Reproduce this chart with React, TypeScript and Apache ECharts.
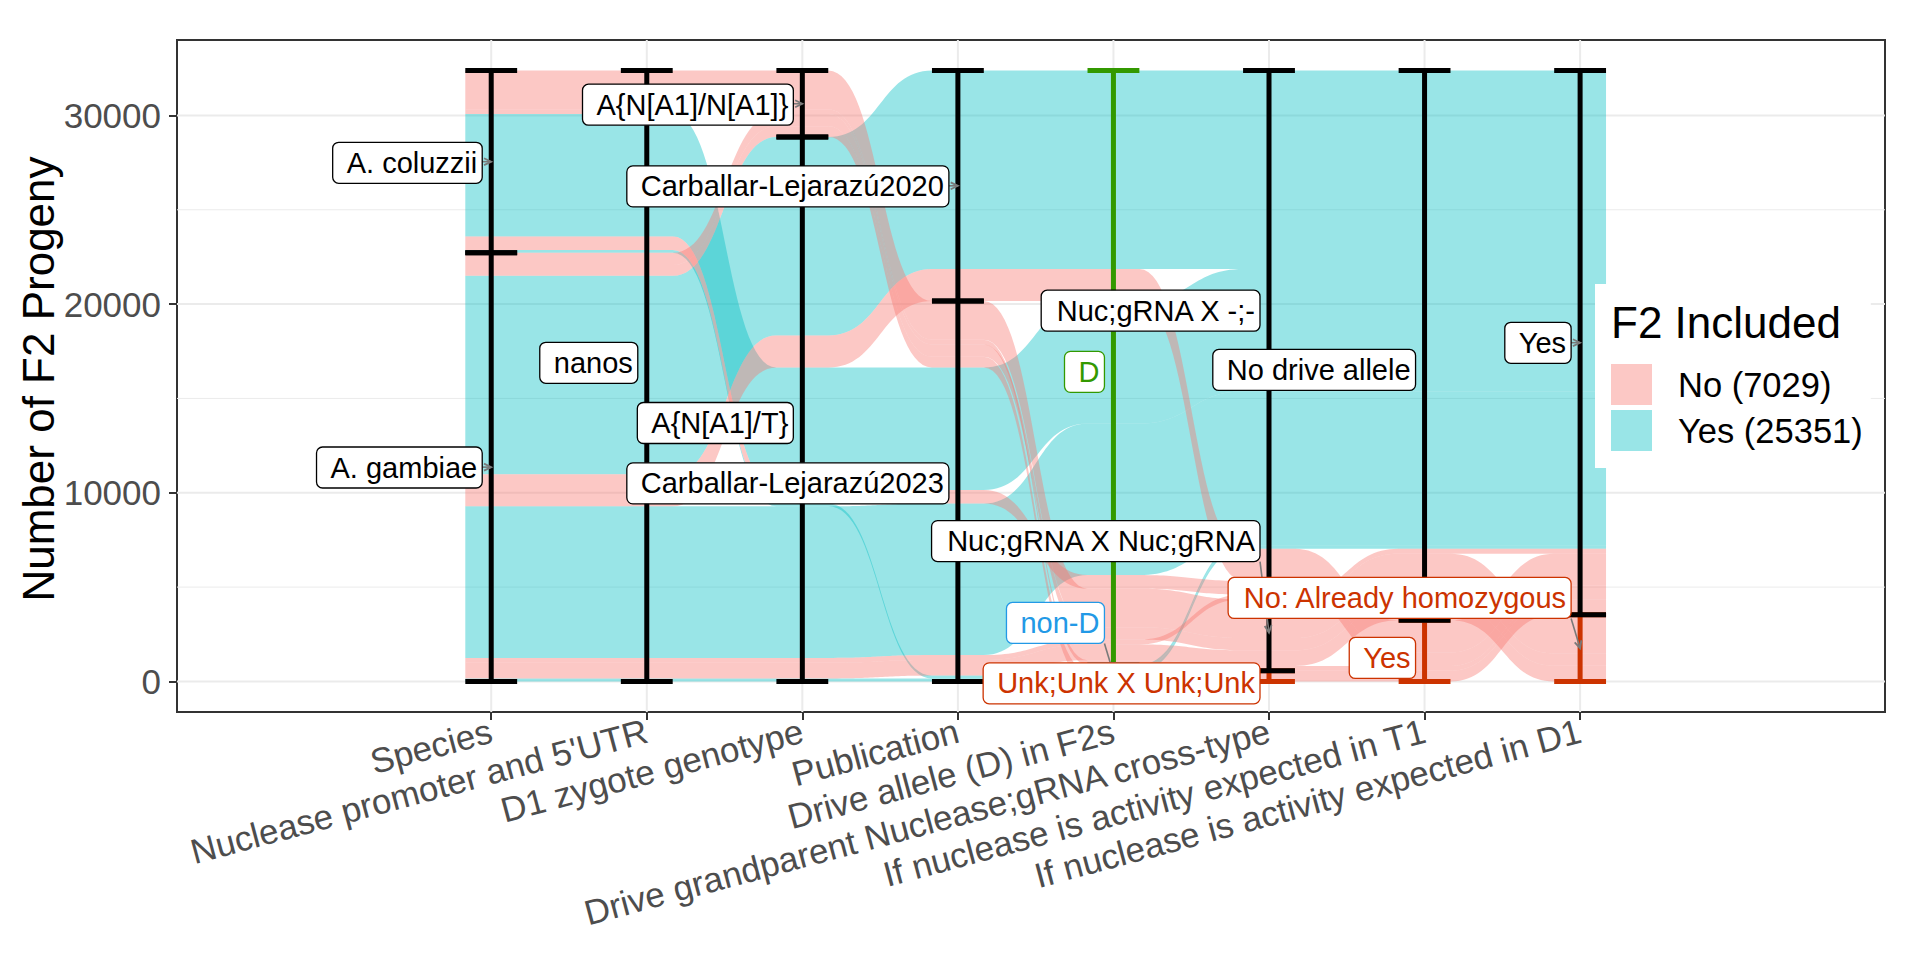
import React, { useEffect, useRef } from 'react';
import * as echarts from 'echarts';

const FONT = "'Liberation Sans', Arial, Helvetica, sans-serif";

// ---------------- data ----------------
const axisNames = [
  'Species',
  "Nuclease promoter and 5'UTR",
  'D1 zygote genotype',
  'Publication',
  'Drive allele (D) in F2s',
  'Drive grandparent Nuclease;gRNA cross-type',
  'If nuclease is activity expected in T1',
  'If nuclease is activity expected in D1',
];

const speciesLevels = ['A. coluzzii', 'A. gambiae'];
const promoterLevels = ['nanos'];
const genotypeLevels = ['A{N[A1]/N[A1]}', 'A{N[A1]/T}'];
const publicationLevels = ['Carballar-Lejarazú2020', 'Carballar-Lejarazú2023'];
const driveLevels = ['D', 'non-D'];
const crossLevels = ['Nuc;gRNA X -;-', 'Nuc;gRNA X Nuc;gRNA', 'Unk;Unk X Unk;Unk'];
const t1Levels = ['No drive allele', 'Yes'];
const d1Levels = ['Yes', 'No: Already homozygous'];

// one entry per alluvium (group of crosses)
const species = ['A. gambiae', 'A. coluzzii', 'A. gambiae', 'A. coluzzii', 'A. gambiae', 'A. coluzzii', 'A. coluzzii', 'A. gambiae', 'A. gambiae', 'A. gambiae', 'A. coluzzii', 'A. gambiae', 'A. gambiae'];
const promoter = ['nanos', 'nanos', 'nanos', 'nanos', 'nanos', 'nanos', 'nanos', 'nanos', 'nanos', 'nanos', 'nanos', 'nanos', 'nanos'];
const genotype = ['A{N[A1]/T}', 'A{N[A1]/T}', 'A{N[A1]/T}', 'A{N[A1]/T}', 'A{N[A1]/T}', 'A{N[A1]/N[A1]}', 'A{N[A1]/N[A1]}', 'A{N[A1]/N[A1]}', 'A{N[A1]/N[A1]}', 'A{N[A1]/T}', 'A{N[A1]/T}', 'A{N[A1]/T}', 'A{N[A1]/T}'];
const publication = ['Carballar-Lejarazú2020', 'Carballar-Lejarazú2023', 'Carballar-Lejarazú2023', 'Carballar-Lejarazú2023', 'Carballar-Lejarazú2023', 'Carballar-Lejarazú2023', 'Carballar-Lejarazú2023', 'Carballar-Lejarazú2023', 'Carballar-Lejarazú2023', 'Carballar-Lejarazú2020', 'Carballar-Lejarazú2023', 'Carballar-Lejarazú2023', 'Carballar-Lejarazú2023'];
const driveAllele = ['D', 'D', 'D', 'non-D', 'non-D', 'D', 'D', 'D', 'non-D', 'D', 'D', 'D', 'D'];
const crossType = ['Nuc;gRNA X -;-', 'Nuc;gRNA X -;-', 'Nuc;gRNA X -;-', 'Nuc;gRNA X -;-', 'Nuc;gRNA X -;-', 'Nuc;gRNA X Nuc;gRNA', 'Nuc;gRNA X Nuc;gRNA', 'Nuc;gRNA X Nuc;gRNA', 'Unk;Unk X Unk;Unk', 'Nuc;gRNA X -;-', 'Nuc;gRNA X -;-', 'Nuc;gRNA X Nuc;gRNA', 'Nuc;gRNA X Nuc;gRNA'];
const activityT1 = ['No drive allele', 'No drive allele', 'No drive allele', 'No drive allele', 'No drive allele', 'No drive allele', 'Yes', 'No drive allele', 'Yes', 'Yes', 'Yes', 'No drive allele', 'No drive allele'];
const activityD1 = ['Yes', 'Yes', 'Yes', 'Yes', 'Yes', 'No: Already homozygous', 'Yes', 'No: Already homozygous', 'Yes', 'Yes', 'Yes', 'No: Already homozygous', 'Yes'];
const f2Included = ['Yes', 'Yes', 'Yes', 'Yes', 'Yes', 'No', 'No', 'No', 'No', 'No', 'No', 'No', 'No'];
const progeny = [10520, 6490, 8031, 150, 160, 2050, 250, 650, 570, 1700, 720, 830, 259];

const yTicks = [0, 10000, 20000, 30000];
const yMinorTicks = [5000, 15000, 25000];

// ---------------- layout / styles (not data) ----------------
// repelled label positions (in y units) for each stratum, per axis
const labelYPos = [
  [27490, 11340],
  [16890],
  [30570, 13700],
  [26240, 10500],
  [16410, 3100],
  [19650, 7440, -100],
  [16510, 1245],
  [17950, 4425],
];
// whether the repel segment (arrow) is drawn for the label
const labelArrow = [
  [true, true],
  [false],
  [true, false],
  [true, false],
  [false, true],
  [false, true, false],
  [false, false],
  [true, true],
];
const stratumColors = [
  ['#000000', '#000000'],
  ['#000000'],
  ['#000000', '#000000'],
  ['#000000', '#000000'],
  ['#339900', '#2299E6'],
  ['#000000', '#000000', '#CC3300'],
  ['#000000', '#CC3300'],
  ['#000000', '#CC3300'],
];
const fillColors: Record<string, string> = {
  No: 'rgba(248,118,109,0.4)',
  Yes: 'rgba(0,191,196,0.4)',
};

// ---------------- computations ----------------
const levels = [speciesLevels, promoterLevels, genotypeLevels, publicationLevels, driveLevels, crossLevels, t1Levels, d1Levels];
const columns = [species, promoter, genotype, publication, driveAllele, crossType, activityT1, activityD1];
const nAxes = columns.length;
const nAll = progeny.length;
const total = progeny.reduce((s, v) => s + v, 0);
const codes = columns.map((col, a) => col.map((v) => levels[a].indexOf(v)));

function zigzag(n: number, i: number): number[] {
  const ord = [i];
  let l = i - 1;
  let r = i + 1;
  let goLeft = i <= n - 1 - i;
  while (l >= 0 || r < n) {
    if (goLeft && l >= 0) ord.push(l--);
    else if (!goLeft && r < n) ord.push(r++);
    else if (l >= 0) ord.push(l--);
    else ord.push(r++);
    goLeft = !goLeft;
  }
  return ord;
}

const lodeTop: number[][] = [];
const lodeBot: number[][] = [];
for (let a = 0; a < nAxes; a++) {
  const ord = zigzag(nAxes, a);
  const order = Array.from({ length: nAll }, (_, k) => k).sort((p, q) => {
    for (const b of ord) {
      const d = codes[b][p] - codes[b][q];
      if (d !== 0) return d;
    }
    return p - q;
  });
  let y = total;
  const t: number[] = [];
  const bt: number[] = [];
  for (const k of order) {
    t[k] = y;
    y -= progeny[k];
    bt[k] = y;
  }
  lodeTop.push(t);
  lodeBot.push(bt);
}

type Stratum = { a: number; s: number; name: string; top: number; bot: number; color: string; labelY: number; arrow: boolean };
const strata: Stratum[] = [];
for (let a = 0; a < nAxes; a++) {
  let y = total;
  levels[a].forEach((name, s) => {
    let size = 0;
    for (let k = 0; k < nAll; k++) if (codes[a][k] === s) size += progeny[k];
    strata.push({ a, s, name, top: y, bot: y - size, color: stratumColors[a][s], labelY: labelYPos[a][s], arrow: labelArrow[a][s] });
    y -= size;
  });
}
// colored error bars first so black ones end on top
const strataDraw = [...strata].sort((p, q) => (p.color === '#000000' ? 1 : 0) - (q.color === '#000000' ? 1 : 0));

const countNo = progeny.reduce((s, v, k) => s + (f2Included[k] === 'No' ? v : 0), 0);
const countYes = progeny.reduce((s, v, k) => s + (f2Included[k] === 'Yes' ? v : 0), 0);
const seriesNames: Record<string, string> = {
  No: `No (${countNo})`,
  Yes: `Yes (${countYes})`,
};

let measureCtx: CanvasRenderingContext2D | null = null;
function textWidth(txt: string, size: number): number {
  if (!measureCtx) {
    const c = document.createElement('canvas');
    measureCtx = c.getContext('2d');
  }
  if (measureCtx) {
    measureCtx.font = `${size}px ${FONT}`;
    return measureCtx.measureText(txt).width;
  }
  return txt.length * size * 0.55;
}

function bezierPoints(x0: number, y0: number, x1: number, y1: number, steps: number): number[][] {
  const pts: number[][] = [];
  const d = x1 - x0;
  const cx0 = x0 + d / 2;
  const cx1 = x1 - d / 2;
  for (let i = 1; i <= steps; i++) {
    const t = i / steps;
    const u = 1 - t;
    const x = u * u * u * x0 + 3 * u * u * t * cx0 + 3 * u * t * t * cx1 + t * t * t * x1;
    const y = u * u * u * y0 + 3 * u * u * t * y0 + 3 * u * t * t * y1 + t * t * t * y1;
    pts.push([x, y]);
  }
  return pts;
}

const STRATUM_W = 1 / 3;

function flowSeries(fill: string) {
  const members = Array.from({ length: nAll }, (_, k) => k).filter((k) => f2Included[k] === fill);
  return {
    type: 'custom',
    name: seriesNames[fill],
    z: 2,
    silent: true,
    itemStyle: { color: fillColors[fill] },
    data: members.map((k) => [1, 0, k]),
    renderItem: (params: any, api: any) => {
      const k = members[params.dataIndex];
      const hw = (api.coord([1 + STRATUM_W / 2, 0])[0] - api.coord([1 - STRATUM_W / 2, 0])[0]) / 2;
      const upper: number[][] = [];
      const lower: number[][] = [];
      let px = 0, pt = 0, pb = 0;
      for (let a = 0; a < nAxes; a++) {
        const x = api.coord([a + 1, 0])[0];
        const yt = api.coord([a + 1, lodeTop[a][k]])[1];
        const yb = api.coord([a + 1, lodeBot[a][k]])[1];
        if (a === 0) {
          upper.push([x - hw, yt]);
          lower.push([x - hw, yb]);
        } else {
          upper.push(...bezierPoints(px + hw, pt, x - hw, yt, 32));
          lower.push(...bezierPoints(px + hw, pb, x - hw, yb, 32));
        }
        upper.push([x + hw, yt]);
        lower.push([x + hw, yb]);
        px = x; pt = yt; pb = yb;
      }
      const points = upper.concat(lower.reverse());
      return {
        type: 'polygon',
        shape: { points },
        style: { fill: fillColors[fill], stroke: null },
      };
    },
  };
}

const gridSeries = {
  type: 'custom',
  name: 'grid-lines',
  z: 1,
  silent: true,
  data: [[1, 0]],
  renderItem: (params: any, api: any) => {
    const cs = params.coordSys;
    const children: any[] = [];
    yMinorTicks.forEach((v) => {
      const y = api.coord([1, v])[1];
      children.push({ type: 'line', shape: { x1: cs.x, y1: y, x2: cs.x + cs.width, y2: y }, style: { stroke: '#EBEBEB', lineWidth: 1 } });
    });
    yTicks.forEach((v) => {
      const y = api.coord([1, v])[1];
      children.push({ type: 'line', shape: { x1: cs.x, y1: y, x2: cs.x + cs.width, y2: y }, style: { stroke: '#EBEBEB', lineWidth: 2 } });
    });
    axisNames.forEach((_, a) => {
      const x = api.coord([a + 1, 0])[0];
      children.push({ type: 'line', shape: { x1: x, y1: cs.y, x2: x, y2: cs.y + cs.height }, style: { stroke: '#EBEBEB', lineWidth: 2 } });
    });
    return { type: 'group', children };
  },
};

const strataSeries = {
  type: 'custom',
  name: 'strata',
  z: 3,
  silent: true,
  data: strataDraw.map(() => [1, 0]),
  renderItem: (params: any, api: any) => {
    const st = strataDraw[params.dataIndex];
    const x = api.coord([st.a + 1, 0])[0];
    const hw = (api.coord([1 + STRATUM_W / 2, 0])[0] - api.coord([1 - STRATUM_W / 2, 0])[0]) / 2;
    const yt = api.coord([st.a + 1, st.top])[1];
    const yb = api.coord([st.a + 1, st.bot])[1];
    const style = { stroke: st.color, lineWidth: 5 };
    return {
      type: 'group',
      children: [
        { type: 'line', shape: { x1: x, y1: yt, x2: x, y2: yb }, style },
        { type: 'line', shape: { x1: x - hw, y1: yt, x2: x + hw, y2: yt }, style },
        { type: 'line', shape: { x1: x - hw, y1: yb, x2: x + hw, y2: yb }, style },
      ],
    };
  },
};

const LABEL_FS = 29;
const labelSeries = {
  type: 'custom',
  name: 'stratum-labels',
  z: 5,
  silent: true,
  data: strata.map(() => [1, 0]),
  renderItem: (params: any, api: any) => {
    const st = strata[params.dataIndex];
    const ax = api.coord([st.a + 1, 0])[0];
    const cy = api.coord([st.a + 1, st.labelY])[1];
    const ty = api.coord([st.a + 1, (st.top + st.bot) / 2])[1];
    const tw = textWidth(st.name, LABEL_FS);
    const padL = 14, padR = 5, h = 41;
    const right = ax - 9;
    const left = right - tw - padL - padR;
    const top = cy - h / 2;
    const bottom = cy + h / 2;
    const children: any[] = [];
    // nearest point of the box to the stratum centre
    const sx = Math.min(Math.max(ax, left), right);
    const sy = Math.min(Math.max(ty, top), bottom);
    const len = Math.hypot(ax - sx, ty - sy);
    if (st.arrow && len > 3) {
      const ang = Math.atan2(ty - sy, ax - sx);
      const al = 8;
      const a1 = ang + Math.PI - 0.45;
      const a2 = ang + Math.PI + 0.45;
      children.push({ type: 'line', shape: { x1: sx, y1: sy, x2: ax, y2: ty }, style: { stroke: '#7A7A7A', lineWidth: 1.6 } });
      children.push({
        type: 'polyline',
        shape: { points: [[ax + al * Math.cos(a1), ty + al * Math.sin(a1)], [ax, ty], [ax + al * Math.cos(a2), ty + al * Math.sin(a2)]] },
        style: { stroke: '#7A7A7A', lineWidth: 1.8, fill: null },
      });
    }
    children.push({
      type: 'rect',
      shape: { x: left, y: top, width: right - left, height: h, r: 6 },
      style: { fill: '#ffffff', stroke: st.color, lineWidth: 1.3 },
    });
    children.push({
      type: 'text',
      style: {
        text: st.name,
        x: right - padR,
        y: cy,
        align: 'right',
        verticalAlign: 'middle',
        fill: st.color,
        fontSize: LABEL_FS,
        fontFamily: FONT,
      },
    });
    return { type: 'group', children };
  },
};

const axisTickValues = axisNames.map((_, i) => i + 1);

const option: any = {
  animation: false,
  backgroundColor: '#ffffff',
  grid: {
    left: 177,
    right: 35,
    top: 40,
    bottom: 248,
    show: true,
    borderColor: '#333333',
    borderWidth: 2,
    backgroundColor: 'transparent',
  },
  xAxis: {
    type: 'value',
    min: -1.02,
    max: 9.96,
    splitLine: { show: false },
    axisLine: { show: false, onZero: false },
    axisTick: { show: true, customValues: axisTickValues, length: 8, lineStyle: { color: '#333333', width: 2 } },
    axisLabel: {
      customValues: axisTickValues,
      formatter: (v: number) => axisNames[Math.round(v) - 1] ?? '',
      rotate: 15,
      fontSize: 35,
      color: '#4D4D4D',
      fontFamily: FONT,
      margin: 18,
      hideOverlap: false,
    },
  },
  yAxis: {
    type: 'value',
    min: -1619,
    max: 33999,
    splitLine: { show: false },
    axisLine: { show: false, onZero: false },
    axisTick: { show: true, customValues: yTicks, length: 8, lineStyle: { color: '#333333', width: 2 } },
    axisLabel: {
      customValues: yTicks,
      fontSize: 35,
      color: '#4D4D4D',
      fontFamily: FONT,
      margin: 16,
      formatter: (v: number) => String(v),
    },
  },
  legend: {
    orient: 'vertical',
    left: 1595,
    top: 284,
    padding: [80, 8, 17, 16],
    itemWidth: 41,
    itemHeight: 41,
    itemGap: 5,
    backgroundColor: '#ffffff',
    selectedMode: false,
    z: 6,
    textStyle: { fontSize: 34.5, color: '#000000', fontFamily: FONT, padding: [0, 0, 0, 21] },
    data: [
      { name: seriesNames.No, icon: 'rect', itemStyle: { color: fillColors.No, borderWidth: 0 } },
      { name: seriesNames.Yes, icon: 'rect', itemStyle: { color: fillColors.Yes, borderWidth: 0 } },
    ],
  },
  graphic: [
    {
      type: 'text',
      z: 100,
      x: 38,
      y: 379,
      rotation: Math.PI / 2,
      style: { text: 'Number of F2 Progeny', align: 'center', verticalAlign: 'middle', fontSize: 44, fontFamily: FONT, fill: '#000000' },
    },
    {
      type: 'text',
      z: 100,
      x: 1611,
      y: 322,
      style: { text: 'F2 Included', align: 'left', verticalAlign: 'middle', fontSize: 44, fontFamily: FONT, fill: '#000000' },
    },
  ],
  series: [gridSeries, flowSeries('Yes'), flowSeries('No'), strataSeries, labelSeries],
};

export default function App() {
  const ref = useRef<HTMLDivElement>(null);
  useEffect(() => {
    if (!ref.current) return;
    const chart = echarts.init(ref.current, undefined, { renderer: 'svg' });
    chart.setOption(option);
    return () => chart.dispose();
  }, []);
  return (
    <div
      ref={ref}
      style={{ position: 'fixed', left: 0, top: 0, width: 1920, height: 960, background: '#ffffff' }}
    />
  );
}
